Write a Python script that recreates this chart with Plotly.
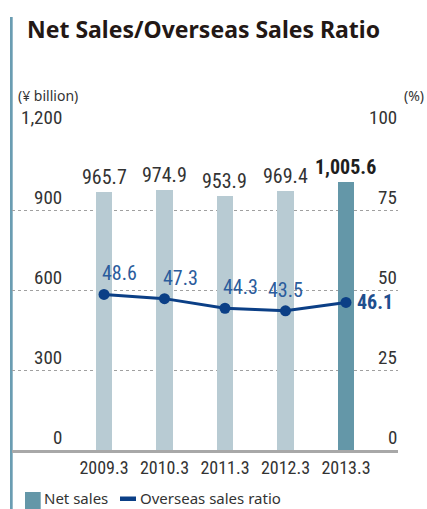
import plotly.graph_objects as go

# ---- data ----
categories = ["2009.3", "2010.3", "2011.3", "2012.3", "2013.3"]
net_sales = [965.7, 974.9, 953.9, 969.4, 1005.6]          # ¥ billion
overseas_ratio = [48.6, 47.3, 44.3, 43.5, 46.1]            # %
left_ticks = [0, 300, 600, 900, 1200]
left_tick_text = ["0", "300", "600", "900", "1,200"]
right_ticks = [0, 25, 50, 75, 100]
right_tick_text = ["0", "25", "50", "75", "100"]

W, H = 427, 509
PL, PR, PT, PB = 12, 398, 130, 450  # plot area in px


def px_x(px):
    return (px - PL) / (PR - PL)


def px_y(py):
    return (PB - py) / (PB - PT)


NUM_FONT = "Roboto Condensed, DejaVu Sans Condensed, sans-serif"
TXT_FONT = "Noto Sans, Open Sans, sans-serif"
LIGHT = "#b8cbd3"
DARK = "#6497a8"
LINE = "#0b3f86"
LBL_BLUE = "#2b5c9c"
TXT = "#333333"

n = len(categories)
xpos = list(range(n))
bar_colors = [LIGHT] * (n - 1) + [DARK]

fig = go.Figure()
fig.add_trace(go.Bar(
    x=categories, y=net_sales, marker=dict(color=bar_colors, line=dict(width=0)),
    width=0.265, name="Net sales", showlegend=False, hoverinfo="skip",
))
fig.add_trace(go.Scatter(
    x=categories, y=overseas_ratio, yaxis="y2", mode="lines+markers",
    line=dict(color=LINE, width=3), marker=dict(color=LINE, size=11),
    name="Overseas sales ratio", showlegend=False, hoverinfo="skip",
))

ann = []
# bar value labels
for i, v in zip(xpos, net_sales):
    last = i == n - 1
    ann.append(dict(
        x=i, y=v, xref="x", yref="y", text=f"{v:,.1f}", showarrow=False,
        yanchor="bottom", yshift=1,
        font=dict(family=NUM_FONT, size=20, color="#1e1e1e" if last else TXT,
                  weight="bold" if last else "normal"),
    ))
# line value labels
for i, v in zip(xpos, overseas_ratio):
    if i == n - 1:
        ann.append(dict(x=i, y=v, xref="x", yref="y2", text=f"{v:.1f}", showarrow=False,
                        xanchor="left", yanchor="middle", xshift=9,
                        font=dict(family=NUM_FONT, size=20, color="#1f4f8e", weight="bold")))
    else:
        centered = v == min(overseas_ratio)
        ann.append(dict(x=i, y=v, xref="x", yref="y2", text=f"{v:.1f}", showarrow=False,
                        xanchor="center" if centered else "left",
                        xshift=0 if centered else -4,
                        yanchor="bottom", yshift=7,
                        font=dict(family=NUM_FONT, size=20, color=LBL_BLUE)))
# tick labels (placed above the grid lines)
for v, t in zip(left_ticks, left_tick_text):
    ann.append(dict(x=px_x(64), y=v, xref="paper", yref="y", text=t, showarrow=False,
                    xanchor="right", yanchor="bottom", yshift=-1,
                    font=dict(family=NUM_FONT, size=19, color=TXT)))
for v, t in zip(right_ticks, right_tick_text):
    ann.append(dict(x=px_x(399), y=v, xref="paper", yref="y2", text=t, showarrow=False,
                    xanchor="right", yanchor="bottom", yshift=-1,
                    font=dict(family=NUM_FONT, size=19, color=TXT)))
# units
ann.append(dict(x=px_x(16), y=px_y(95), xref="paper", yref="paper", text="(¥ billion)",
                showarrow=False, xanchor="left", yanchor="middle",
                font=dict(family=TXT_FONT, size=14, color=TXT)))
ann.append(dict(x=px_x(426), y=px_y(95), xref="paper", yref="paper", text="(%)",
                showarrow=False, xanchor="right", yanchor="middle",
                font=dict(family=TXT_FONT, size=14, color=TXT)))
# title
ann.append(dict(x=px_x(25), y=px_y(29), xref="paper", yref="paper",
                text="Net Sales/Overseas Sales Ratio", showarrow=False,
                xanchor="left", yanchor="middle",
                font=dict(family=TXT_FONT, size=23, color="#231815", weight="bold")))
# legend texts
ann.append(dict(x=px_x(42), y=px_y(498), xref="paper", yref="paper", text="Net sales",
                showarrow=False, xanchor="left", yanchor="middle",
                font=dict(family=TXT_FONT, size=15, color=TXT)))
ann.append(dict(x=px_x(138), y=px_y(498), xref="paper", yref="paper", text="Overseas sales ratio",
                showarrow=False, xanchor="left", yanchor="middle",
                font=dict(family=TXT_FONT, size=15, color=TXT)))

shapes = [
    # accent bar on the left
    dict(type="rect", xref="paper", yref="paper", x0=px_x(10), x1=px_x(12.7),
         y0=px_y(H + 5), y1=px_y(17), fillcolor="#6a9db2", line=dict(width=0), layer="below"),
    # legend glyphs
    dict(type="rect", xref="paper", yref="paper", x0=px_x(25), x1=px_x(40.7),
         y0=px_y(509), y1=px_y(492), fillcolor=DARK, line=dict(width=0)),
    dict(type="rect", xref="paper", yref="paper", x0=px_x(120), x1=px_x(136),
         y0=px_y(501), y1=px_y(496.5), fillcolor=LINE, line=dict(width=0)),
]

fig.update_layout(
    width=W, height=H,
    margin=dict(l=PL, r=W - PR, t=PT, b=H - PB, autoexpand=False),
    paper_bgcolor="white", plot_bgcolor="white",
    showlegend=False, bargap=0,
    xaxis=dict(type="category", range=[-1.521, 4.86], showgrid=False,
               showline=True, linecolor="#a8a8a8", linewidth=2.5,
               ticks="", tickfont=dict(family=NUM_FONT, size=18, color=TXT),
               fixedrange=True),
    yaxis=dict(range=[0, 1200], tickvals=left_ticks, showticklabels=False,
               showgrid=True, gridcolor="#a0a0a0", gridwidth=1, griddash="dot",
               zeroline=False, showline=False, fixedrange=True),
    yaxis2=dict(range=[0, 100], overlaying="y", side="right", showgrid=False,
                showticklabels=False, zeroline=False, showline=False, fixedrange=True),
    annotations=ann, shapes=shapes,
)

fig.write_html("out.html", config={"displayModeBar": False, "staticPlot": True},
               post_script="document.body.style.margin='0';")
